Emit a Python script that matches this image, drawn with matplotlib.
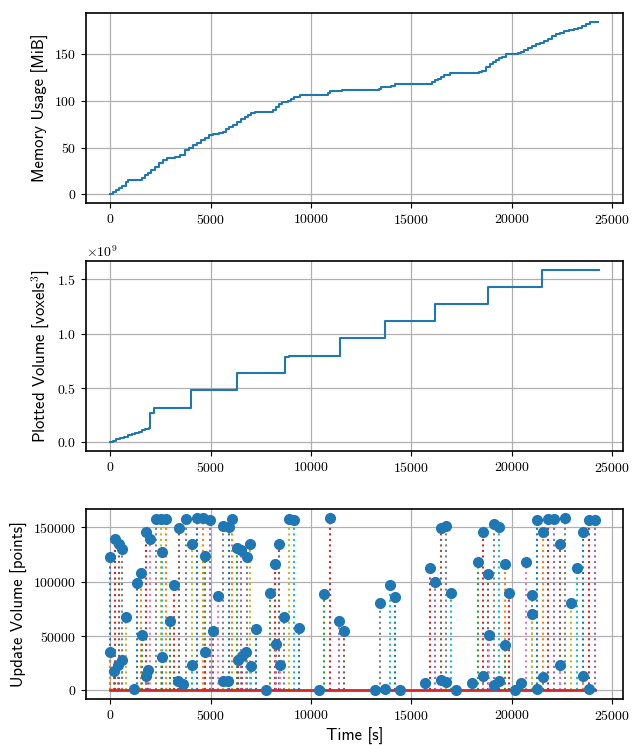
import matplotlib
matplotlib.use("Agg")
import matplotlib.pyplot as plt
import numpy as np

plt.rcParams['font.family'] = ['cmr10']
plt.rcParams['mathtext.fontset'] = 'cm'
plt.rcParams['axes.formatter.use_mathtext'] = True
plt.rcParams['axes.unicode_minus'] = False
plt.rcParams['font.size'] = 10

# ---- Memory usage (step series) ----
mem_t = [0, 150, 300, 450, 600, 800, 900, 1400, 1550, 1700, 1850, 2000, 2200, 2400, 2600,
         2800, 3200, 3450, 3700, 3900, 4100, 4300, 4500, 4700, 4900, 5100, 5400, 5600,
         5750, 5900, 6100, 6300, 6500, 6700, 6850, 7000, 7200, 7900, 8100, 8250, 8400,
         8550, 8850, 9000, 9150, 9450, 10700, 10850, 10950, 11550, 13400, 13500, 14000,
         14200, 15800, 16000, 16150, 16300, 16450, 16600, 16900, 18200, 18350, 18500,
         18700, 18900, 19050, 19200, 19350, 19500, 19700, 20300, 20450, 20600, 20800,
         21000, 21200, 21400, 21600, 21800, 22000, 22200, 22400, 22600, 22850, 23100,
         23300, 23500, 23700, 23900, 24300]
mem_v = [0, 2.5, 4.6, 6.5, 9, 13.5, 15, 15, 18, 20.5, 23, 26, 29.5, 33, 37,
         39, 40, 42, 47, 50, 52.5, 55, 58, 60.5, 63, 64.5, 65.5, 67,
         69.5, 72, 74.5, 77, 80, 82.6, 85, 87, 88, 88, 90.5, 93, 96,
         98.6, 100, 102, 104, 105.7, 106, 108, 110, 111.7, 112, 114.5, 116,
         117.4, 117.4, 120, 121.5, 123.4, 125, 127, 129.4, 129.6, 131, 132,
         136, 139.4, 141, 143, 145, 147, 150, 150.5, 152, 153.5, 156,
         158, 160, 162, 164, 166, 168.5, 171, 172.5, 174, 175, 176.6,
         178, 180, 182, 183.7, 184.4]

# ---- Plotted volume (x1e9) ----
vol_t = [0, 150, 300, 500, 700, 900, 1100, 1250, 1400, 1550, 1700, 1900, 1950, 2170,
         4020, 6300, 8690, 8910, 11420, 13680, 16190, 18810, 21480, 24340]
vol_v = [0, 0.015, 0.03, 0.04, 0.052, 0.065, 0.076, 0.087, 0.098, 0.11, 0.12, 0.137,
         0.274, 0.317, 0.479, 0.637, 0.787, 0.796, 0.957, 1.119, 1.271, 1.43, 1.591, 1.591]

# ---- Update volume (stem) ----
upd_t = [0, 0, 200, 230, 360, 410, 560, 560, 773, 1184, 1350, 1530, 1580, 1760, 1760,
         1890, 1960, 2250, 2530, 2580, 2580, 2780, 2960, 3190, 3370, 3420, 3620, 3760,
         4060, 4060, 4325, 4590, 4690, 4690, 4970, 5130, 5380, 5590, 5590, 5870, 5905,
         6070, 6300, 6370, 6530, 6580, 6780, 6810, 6975, 7000, 7240, 7730, 7930, 8180,
         8230, 8420, 8455, 8670, 8920, 9160, 9410, 10400, 10640, 10950, 11390, 11640,
         13180, 13410, 13680, 13910, 14170, 14420, 15660, 15940, 16190, 16470, 16470,
         16720, 16720, 16970, 17235, 18010, 18290, 18540, 18540, 18810, 18840, 19090,
         19090, 19370, 19370, 19640, 19670, 19880, 20170, 20450, 20710, 20990, 20990,
         21240, 21270, 21540, 21540, 21820, 22120, 22400, 22400, 22650, 22950, 23230,
         23530, 23530, 23840, 23840, 24140]
upd_v = [123000, 34900, 17700, 139000, 23000, 135000, 28000, 130000, 67300, 1200, 99000,
         107600, 51000, 146000, 12800, 19000, 139000, 158000, 158000, 127500, 30600,
         158000, 64000, 97000, 8300, 149000, 6100, 157600, 134600, 23500, 159000, 159000,
         123500, 34900, 157000, 55000, 86800, 151000, 8300, 8300, 150500, 158000, 130600,
         28000, 129000, 31800, 34900, 123000, 134600, 22000, 56300, 0, 89300, 116200,
         42500, 134600, 23500, 67300, 158000, 156600, 57000, 0, 89000, 158500, 64000,
         54700, 0, 80700, 1500, 97000, 86200, 0, 6700, 113000, 100000, 149000, 9800,
         151000, 7300, 89300, 0, 6700, 118300, 145900, 12800, 107000, 51000, 153000,
         5200, 150500, 8300, 116200, 41900, 89300, 0, 6700, 118300, 87800, 70300,
         1200, 157200, 145900, 12200, 158000, 158000, 134600, 23500, 159000, 80700,
         113000, 145900, 12800, 1200, 157200, 157200]

x_ticks = [0, 5000, 10000, 15000, 20000, 25000]

fig = plt.figure(figsize=(6.32, 7.45), dpi=100)
L, W, Hh = 0.1361, 0.8489, 0.2552
ax1 = fig.add_axes([L, 0.7275, W, Hh])
ax2 = fig.add_axes([L, 0.3946, W, Hh])
ax3 = fig.add_axes([L, 0.0617, W, Hh])

lab = dict(family='cmss10', fontsize=12)

ax1.plot(mem_t, mem_v, drawstyle='steps-post', color='C0', lw=1.5)
ax1.set_ylabel('Memory Usage [MiB]', **lab)

ax2.plot(vol_t, np.array(vol_v) * 1e9, drawstyle='steps-post', color='C0', lw=1.5)
ax2.set_ylabel(r'Plotted Volume [voxels$^3$]', **lab)

for i, (t, v) in enumerate(zip(upd_t, upd_v)):
    ax3.plot([t, t], [0, v], ls=':', color=f'C{i % 10}', lw=1.5, zorder=2)
ax3.plot([min(upd_t), max(upd_t)], [0, 0], color='C3', lw=2, zorder=2.5)
ax3.plot(upd_t, upd_v, 'o', color='C0', ms=7, zorder=3)
ax3.set_ylabel('Update Volume [points]', **lab)
ax3.set_xlabel('Time [s]', **lab)

for ax in (ax1, ax2, ax3):
    ax.set_xticks(x_ticks)
    ax.set_xlim(-1215, 25515)
    ax.grid(True, color='#b0b0b0', lw=0.9)
    for s in ax.spines.values():
        s.set_linewidth(1.2)

ax1.set_ylim(-9.2, 193.6)
ax2.set_ylim(-0.0795e9, 1.6705e9)
ax3.set_ylim(-7950, 166950)

fig.savefig('out.png', dpi=100)
